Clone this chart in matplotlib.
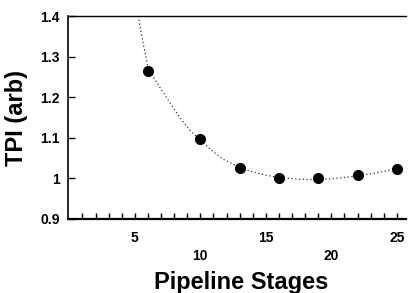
import numpy as np
import matplotlib
matplotlib.use("Agg")
import matplotlib.pyplot as plt

# values
stages = [6, 10, 13, 16, 19, 22, 25]
tpi = [1.264, 1.096, 1.026, 1.002, 1.000, 1.009, 1.024]

# dotted trend curve, sampled along the line in the picture
curve_x = [5.27, 5.5, 5.75, 6.0, 6.5, 7.0, 7.75, 8.5, 9.25, 10.0, 10.75, 11.75,
           13.0, 14.0, 15.0, 16.0, 17.5, 18.5, 20.0, 21.5, 23.0, 24.0, 25.2]
curve_y = [1.40, 1.355, 1.315, 1.275, 1.245, 1.22, 1.183, 1.147, 1.117, 1.094, 1.072, 1.047,
           1.027, 1.016, 1.008, 1.002, 0.998, 0.997, 0.999, 1.004, 1.011, 1.017, 1.027]

x_labels = [5, 10, 15, 20, 25]
y_ticks = [0.9, 1.0, 1.1, 1.2, 1.3, 1.4]
y_labels = ["0.9", "1", "1.1", "1.2", "1.3", "1.4"]

plt.rcParams['font.family'] = ['Liberation Sans', 'DejaVu Sans']
plt.rcParams['font.weight'] = 'bold'

W, H = 413, 293
fig = plt.figure(figsize=(W / 100, H / 100), dpi=100)
ax = fig.add_axes([68 / W, 1 - 219 / H, (406 - 68) / W, (219 - 16) / H])

ax.plot(curve_x, curve_y, color='#333333', lw=0.9, linestyle=(0, (1, 2)), zorder=2)
ax.plot(stages, tpi, 'o', color='black', markersize=7, zorder=3)

ax.set_xlim(-0.1, 25.7)
ax.set_ylim(0.9, 1.4)

# unit ticks along the bottom, labels staggered on two rows
ax.set_xticks(np.arange(1, 26, 1))
ax.set_xticklabels([])
ax.tick_params(axis='x', direction='in', length=4, width=1)
for i, v in enumerate(x_labels):
    yy = -0.094 if i % 2 == 0 else -0.183
    ax.text(v, yy, str(v), transform=ax.get_xaxis_transform(),
            ha='center', va='center', fontsize=10, fontweight='bold')

ax.set_yticks(y_ticks)
ax.set_yticklabels(y_labels, fontsize=10, fontweight='bold')
ax.tick_params(axis='y', direction='in', length=5, width=1, pad=6)

ax.spines['right'].set_visible(False)
ax.spines['top'].set_linewidth(1.0)
ax.spines['left'].set_linewidth(1.2)
ax.spines['bottom'].set_linewidth(1.6)

fig.text(17 / W, 1 - 118 / H, "TPI (arb)", rotation=90, ha='center', va='center',
         fontsize=17, fontweight='bold')
fig.text(241 / W, 1 - 289 / H, "Pipeline Stages", ha='center', va='baseline',
         fontsize=17, fontweight='bold')

fig.savefig("out.png", dpi=100)
